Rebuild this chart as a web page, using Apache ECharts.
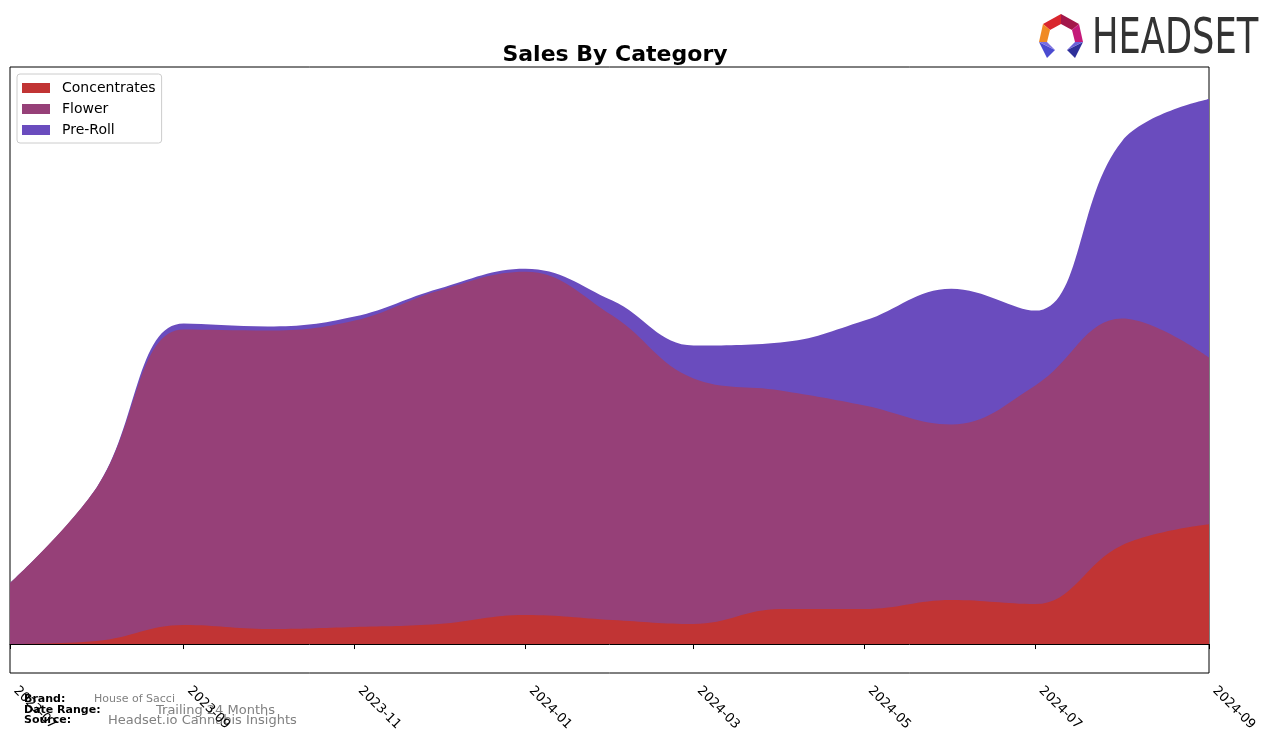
<!DOCTYPE html>
<html><head><meta charset="utf-8">
<script src="https://cdn.jsdelivr.net/npm/echarts@6/dist/echarts.min.js"></script>
<style>html,body{margin:0;padding:0;background:#fff}#c{width:1276px;height:743px}</style>
</head><body><div id="c"></div>
<script>
const months = ['2023-07-01','2023-08-01','2023-09-01','2023-10-01','2023-11-01','2023-12-01','2024-01-01','2024-02-01','2024-03-01','2024-04-01','2024-05-01','2024-06-01','2024-07-01','2024-08-01','2024-09-01'];
const concentrates = [0, 3, 19, 15, 17, 20, 29, 24, 20, 35, 35, 44, 40, 99, 120];
const flower = [61, 154, 296, 299, 307, 334, 344, 305, 246, 219, 204, 176, 219, 227, 167];
const preRoll = [0, 0, 6, 4, 4, 2, 3, 15, 33, 48, 85, 136, 75, 178, 259];
const tickLabels = ['2023-07','2023-09','2023-11','2024-01','2024-03','2024-05','2024-07','2024-09'];
const seriesNames = ['Concentrates','Flower','Pre-Roll'];
const colors = ['#c13434','#964078','#6a4cbe'];

const DAY = 86400000;
const toTs = s => new Date(s + 'T00:00:00Z').getTime();
const t0 = toTs(months[0]);
const tickVals = tickLabels.map(t => (toTs(t + '-01') - t0) / DAY);
const xs = months.map(m => (toTs(m) - t0) / DAY);
const fmt = v => { const d = new Date(t0 + v * DAY); return d.getUTCFullYear() + '-' + String(d.getUTCMonth()+1).padStart(2,'0'); };
const font = 'DejaVu Sans';

// cumulative stacks (bottom to top)
const layers = [concentrates, flower, preRoll];
const cum = [];
layers.forEach((arr, i) => cum.push(arr.map((v, j) => v + (i ? cum[i-1][j] : 0))));

// draw top-most cumulative first so lower layers paint over it
const series = [2, 1, 0].map(i => ({
  name: seriesNames[i], type: 'line', smooth: 0.4, showSymbol: false, z: 2 + (2 - i),
  lineStyle: { width: 0 }, areaStyle: { color: colors[i], opacity: 1 }, itemStyle: { color: colors[i] },
  data: cum[i].map((v, j) => [xs[j], v])
}));

const chart = echarts.init(document.getElementById('c'));
chart.setOption({
  animation: false,
  title: { text: 'Sales By Category', left: 610, top: 39, textAlign: 'center',
    textStyle: { fontFamily: font, fontSize: 22, fontWeight: 'bold', color: '#000' } },
  legend: { left: 17, top: 74, orient: 'vertical', itemWidth: 28, itemHeight: 10, itemGap: 7,
    icon: 'rect', borderColor: '#cccccc', borderWidth: 1, borderRadius: 3, padding: [7, 6, 6, 5],
    textStyle: { fontFamily: font, fontSize: 14, color: '#000', padding: [0, 0, 0, 7] }, data: seriesNames },
  grid: { left: 10, right: 67, top: 67, bottom: 70, show: true, borderColor: '#000', borderWidth: 1, containLabel: false },
  xAxis: { type: 'value', min: tickVals[0], max: tickVals[tickVals.length-1],
    splitLine: { show: false },
    axisLine: { lineStyle: { color: '#000' } },
    axisTick: { show: true, length: 5, lineStyle: { color: '#000' }, customValues: tickVals },
    axisLabel: { customValues: tickVals, rotate: -45, fontFamily: font, fontSize: 13, color: '#000', margin: 10,
      padding: [0, 0, 0, 8], showMinLabel: true, showMaxLabel: true, formatter: fmt } },
  yAxis: { type: 'value', min: -29, max: 578, show: false, splitLine: { show: false } },
  series: series,
  graphic: [
    { type: 'text', left: 24, top: 694, style: { text: 'Brand:', fontFamily: font, fontSize: 11, fontWeight: 'bold', fill: '#000' } },
    { type: 'text', left: 94, top: 694, style: { text: 'House of Sacci', fontFamily: font, fontSize: 11, fill: '#808080' } },
    { type: 'text', left: 24, top: 705, style: { text: 'Date Range:', fontFamily: font, fontSize: 11, fontWeight: 'bold', fill: '#000' } },
    { type: 'text', left: 156, top: 704, style: { text: 'Trailing 24 Months', fontFamily: font, fontSize: 13, fill: '#808080' } },
    { type: 'text', left: 24, top: 715, style: { text: 'Source:', fontFamily: font, fontSize: 11, fontWeight: 'bold', fill: '#000' } },
    { type: 'text', left: 108, top: 714, style: { text: 'Headset.io Cannabis Insights', fontFamily: font, fontSize: 13, fill: '#808080' } },
    { type: 'text', x: 1092, y: 16, scaleX: 0.8, style: { text: 'HEADSET', fontFamily: 'DejaVu Sans Condensed', fontSize: 49, fill: '#333333' } },
    { type: 'polygon', shape: { points: [[1043,24],[1061,14],[1061,24],[1050,30]] }, style: { fill: '#d9262e' } },
    { type: 'polygon', shape: { points: [[1061,14],[1079,24],[1072,30],[1061,24]] }, style: { fill: '#a3174a' } },
    { type: 'polygon', shape: { points: [[1079,24],[1083,42],[1075,42],[1072,30]] }, style: { fill: '#c41a7a' } },
    { type: 'polygon', shape: { points: [[1043,24],[1050,30],[1047,42],[1039,42]] }, style: { fill: '#f08a24' } },
    { type: 'polygon', shape: { points: [[1039,42],[1055,50],[1047,58]] }, style: { fill: '#4a4bd0' } },
    { type: 'polygon', shape: { points: [[1039,42],[1047,42],[1055,50]] }, style: { fill: '#7b6ee0' } },
    { type: 'polygon', shape: { points: [[1083,42],[1067,50],[1075,58]] }, style: { fill: '#2e2f9a' } },
    { type: 'polygon', shape: { points: [[1083,42],[1075,42],[1067,50]] }, style: { fill: '#6a5fd8' } }
  ]
});
</script></body></html>
